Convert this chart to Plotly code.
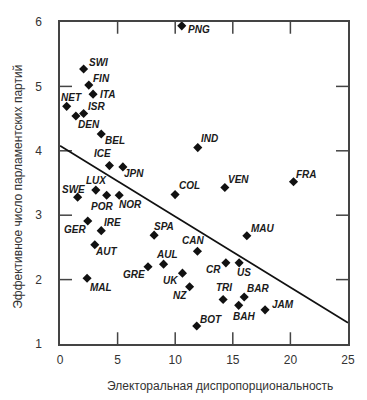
import plotly.graph_objects as go

countries = ["PNG", "SWI", "FIN", "ITA", "NET", "DEN", "ISR", "BEL", "IND", "ICE",
             "JPN", "SWE", "LUX", "POR", "NOR", "COL", "GER", "IRE", "SPA", "AUT",
             "CAN", "AUL", "GRE", "UK", "MAL", "NZ", "BOT", "VEN", "FRA", "MAU",
             "CR", "US", "TRI", "BAR", "BAH", "JAM"]
disproportionality = [10.57, 2.05, 2.50, 2.87, 0.58, 1.38, 2.05, 3.58, 11.96, 4.29,
                      5.46, 1.53, 3.11, 4.05, 5.14, 9.99, 2.41, 3.58, 8.17, 3.02,
                      11.93, 8.99, 7.64, 10.63, 2.35, 11.25, 11.87, 14.31, 20.27, 16.22,
                      14.40, 15.55, 14.16, 15.99, 15.51, 17.80]
eff_parties = [5.94, 5.27, 5.02, 4.88, 4.69, 4.54, 4.58, 4.26, 4.05, 3.77,
               3.75, 3.28, 3.39, 3.31, 3.31, 3.32, 2.91, 2.76, 2.69, 2.54,
               2.44, 2.24, 2.20, 2.10, 2.02, 1.89, 1.28, 3.43, 3.52, 2.68,
               2.26, 2.26, 1.69, 1.73, 1.60, 1.53]

fit_intercept = 4.08
fit_slope = -0.110

x_ticks = [0, 5, 10, 15, 20, 25]
y_ticks = [1, 2, 3, 4, 5, 6]
x_inner_ticks = [5, 10, 15, 20]
y_inner_ticks = [2, 3, 4, 5]

x_title = "Электоральная диспропорциональность"
y_title = "Эффективное число парламентских партий"

# label offsets (pixels: right, up) — styling only
label_shift = {
    "PNG": (17, -4), "SWI": (15, 7), "FIN": (13, 7), "ITA": (14, 0), "NET": (5, 9),
    "DEN": (13, -8), "ISR": (13, 7), "BEL": (14, -6), "IND": (12, 9), "ICE": (-7, 12),
    "JPN": (11, -7), "SWE": (-4, 8), "LUX": (1, 10), "POR": (-5, -11), "NOR": (11, -9),
    "COL": (14, 9), "GER": (-13, -8), "IRE": (11, 8), "SPA": (10, 9), "AUT": (11, -7),
    "CAN": (-4, 11), "AUL": (3, 10), "GRE": (-14, -8), "UK": (-12, -7), "MAL": (14, -9),
    "NZ": (-10, -9), "BOT": (14, 6), "VEN": (14, 8), "FRA": (13, 7), "MAU": (16, 7),
    "CR": (-12, -7), "US": (5, -10), "TRI": (1, 12), "BAR": (14, 8), "BAH": (5, -11),
    "JAM": (18, 5),
}

x_range = [0, 25]
y_range = [1, 6]

FONT = "Liberation Sans, Arial, sans-serif"
AXIS_COLOR = "#444444"
TICK_LEN = 12

FIG_W, FIG_H = 359, 392
M_L, M_R, M_T, M_B = 52, 19, 7, 56
plot_w = FIG_W - M_L - M_R
plot_h = FIG_H - M_T - M_B

fig = go.Figure()

# inside tick marks on all four sides, built from the tick lists
dx_len = TICK_LEN * (x_range[1] - x_range[0]) / plot_w
dy_len = TICK_LEN * (y_range[1] - y_range[0]) / plot_h
tx, ty = [], []
for t in x_inner_ticks:
    tx += [t, t, None, t, t, None]
    ty += [y_range[0], y_range[0] + dy_len, None, y_range[1], y_range[1] - dy_len, None]
for t in y_inner_ticks:
    tx += [x_range[0], x_range[0] + dx_len, None, x_range[1], x_range[1] - dx_len, None]
    ty += [t, t, None, t, t, None]
fig.add_trace(go.Scatter(x=tx, y=ty, mode="lines", connectgaps=False,
                         line=dict(color=AXIS_COLOR, width=1.5),
                         hoverinfo="skip", showlegend=False))

fit_x = [x_range[0], x_range[1]]
fit_y = [fit_intercept + fit_slope * v for v in fit_x]
fig.add_trace(go.Scatter(x=fit_x, y=fit_y, mode="lines",
                         line=dict(color="#111111", width=1.8),
                         hoverinfo="skip", showlegend=False))

fig.add_trace(go.Scatter(x=disproportionality, y=eff_parties, mode="markers",
                         marker=dict(symbol="diamond", size=7, color="#111111"),
                         text=countries, showlegend=False, cliponaxis=False))

for c, xv, yv in zip(countries, disproportionality, eff_parties):
    sx, sy = label_shift[c]
    fig.add_annotation(x=xv, y=yv, text="<b><i>%s</i></b>" % c, showarrow=False,
                       xshift=sx, yshift=sy, xanchor="center", yanchor="middle",
                       font=dict(family=FONT, size=10, color="#1a1a1a"))

fig.add_annotation(x=0.556, y=-0.13, xref="paper", yref="paper", text=x_title,
                   showarrow=False, xanchor="center", yanchor="middle",
                   font=dict(family=FONT, size=12, color="#333333"))
fig.add_annotation(x=-0.146, y=0.488, xref="paper", yref="paper", text=y_title,
                   showarrow=False, textangle=-90, xanchor="center", yanchor="middle",
                   font=dict(family=FONT, size=12, color="#333333"))

# page body adds an 8px margin, so the figure is 8px smaller and shifted
fig.update_layout(
    width=FIG_W, height=FIG_H,
    margin=dict(l=M_L, r=M_R, t=M_T, b=M_B),
    paper_bgcolor="white", plot_bgcolor="white",
    font=dict(family=FONT, size=12, color="#333333"),
    xaxis=dict(range=x_range, tickmode="array", tickvals=x_ticks, ticks="",
               showgrid=False, zeroline=False, showline=True, linecolor=AXIS_COLOR,
               linewidth=1.5, mirror=True, ticklabelstandoff=4,
               tickfont=dict(size=12, color="#333333")),
    yaxis=dict(range=y_range, tickmode="array", tickvals=y_ticks, ticks="",
               showgrid=False, zeroline=False, showline=True, linecolor=AXIS_COLOR,
               linewidth=1.5, mirror=True, ticklabelstandoff=14,
               tickfont=dict(size=12, color="#333333")),
)

fig.write_html("out.html")
